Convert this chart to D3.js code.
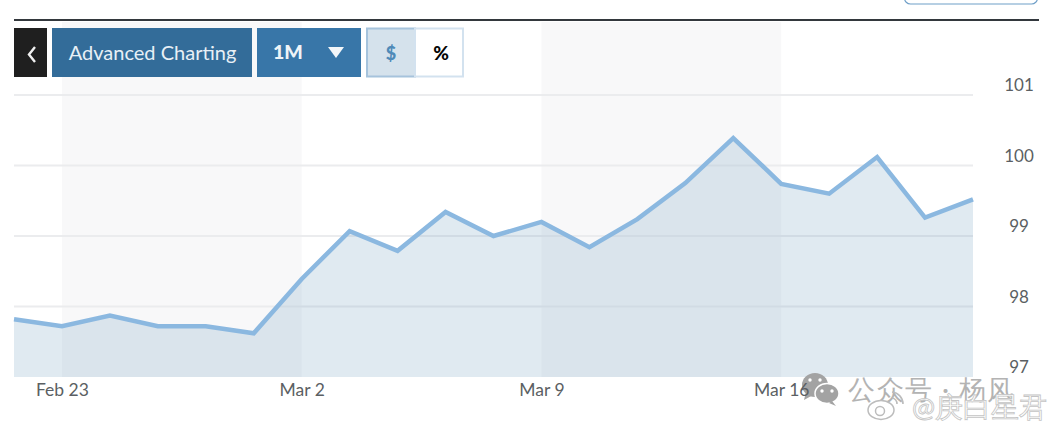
<!DOCTYPE html>
<html><head><meta charset="utf-8">
<script src="https://cdn.jsdelivr.net/npm/d3@7"></script>
<style>html,body{margin:0;padding:0;background:#fff}svg{display:block}text{font-family:Lato,sans-serif}</style>
</head><body><svg id="c" width="1056" height="432"></svg>
<script>
const days = ["Feb 20","Feb 23","Feb 24","Feb 25","Feb 26","Feb 27","Mar 2","Mar 3","Mar 4","Mar 5","Mar 6","Mar 9","Mar 10","Mar 11","Mar 12","Mar 13","Mar 16","Mar 17","Mar 18","Mar 19","Mar 20"];
const prices = [97.82,97.72,97.87,97.72,97.72,97.62,98.39,99.07,98.79,99.34,99.00,99.20,98.84,99.24,99.75,100.39,99.74,99.60,100.12,99.26,99.52];
const xTickLabels = ["Feb 23","Mar 2","Mar 9","Mar 16"];
const yTicks = [97,98,99,100,101];
const shadedWeeks = [["Feb 23","Mar 2"],["Mar 9","Mar 16"]];

const svg = d3.select("#c");
const x = d3.scalePoint().domain(days).range([14,973]);
const y = d3.scaleLinear().domain([97,101]).range([377,95]);

// top rule and clipped outline button
svg.append("rect").attr("x",14).attr("y",19).attr("width",1025).attr("height",2).attr("fill","#33383d");
svg.append("rect").attr("x",904.5).attr("y",-16).attr("width",133).attr("height",20).attr("rx",6)
  .attr("fill","#fff").attr("stroke","#6f9fc8").attr("stroke-width",1.2);

// shaded weeks
svg.selectAll(".band").data(shadedWeeks).join("rect")
  .attr("x",d=>x(d[0])).attr("y",22).attr("width",d=>x(d[1])-x(d[0])).attr("height",355)
  .attr("fill","#f8f8f9");

// grid
svg.append("g").selectAll("line").data(yTicks.slice(1)).join("line")
  .attr("x1",14).attr("x2",973).attr("y1",d=>y(d)).attr("y2",d=>y(d))
  .attr("stroke","#ebecee").attr("stroke-width",2);

// area and line
const pts = days.map((d,i)=>[d,prices[i]]);
svg.append("path").datum(pts)
  .attr("d",d3.area().x(d=>x(d[0])).y0(y(97)).y1(d=>y(d[1])))
  .attr("fill","#7ea8c6").attr("fill-opacity",0.24);
svg.append("path").datum(pts)
  .attr("d",d3.line().x(d=>x(d[0])).y(d=>y(d[1])))
  .attr("fill","none").attr("stroke","#8bb8e0").attr("stroke-width",4.5).attr("stroke-linejoin","miter");

// axes
const yAxis = d3.axisRight(y).tickValues(yTicks).tickSize(0).tickPadding(0).tickFormat(d3.format("d"));
const gy = svg.append("g").attr("transform","translate(1019,-9.5)").call(yAxis);
gy.select(".domain").remove();
gy.selectAll("text").attr("text-anchor","middle").attr("font-size",17).attr("font-family","Lato,sans-serif").attr("fill","#5b5f63").attr("dy","0.32em");

// toolbar
const btn=(bx,by,w,h,fill,stroke)=>svg.append("rect").attr("x",bx).attr("y",by).attr("width",w).attr("height",h).attr("fill",fill).attr("stroke",stroke||"none");
const lab=(tx,ty,t,size,fill,weight)=>svg.append("text").attr("x",tx).attr("y",ty).attr("text-anchor","middle").attr("font-size",size).attr("fill",fill).attr("font-weight",weight||400).text(t);
btn(14,28,33,49,"#1f1f1f");
svg.append("path").attr("d",d3.line()([[35,47],[29,54.5],[35,62]])).attr("fill","none").attr("stroke","#f0f0f0").attr("stroke-width",2.4);
btn(52,28,200,49,"#336c99");
lab(152.5,60,"Advanced Charting",20,"#e8f0f6");
btn(257,28,104,49,"#3876a8");
lab(288,59,"1M",19.5,"#eef4f8",900);
svg.append("path").attr("d",d3.line()([[328,47],[344,47],[336,58]])+"Z").attr("fill","#f2f6f9");
btn(367,28.5,48,48,"#d5e2ec","#a6c3dc").attr("stroke-width",2);
btn(415,28.5,48,48,"#fff","#d3e2ef").attr("stroke-width",2);
lab(391,60,"$",18,"#4f8ab8",900);
lab(441,60,"%",19,"#050505",900);

// watermark
const wm=svg.append("g");
wm.append("ellipse").attr("cx",815).attr("cy",385).attr("rx",13).attr("ry",12).attr("fill","#a3a3a3");
wm.append("path").attr("d",d3.line()([[806,392],[804,400],[813,395]])).attr("fill","#a3a3a3");
wm.append("ellipse").attr("cx",827).attr("cy",393.5).attr("rx",12).attr("ry",10).attr("fill","#a3a3a3").attr("stroke","#fff").attr("stroke-width",1.5);
wm.append("path").attr("d",d3.line()([[832,401],[836,406],[829,403]])).attr("fill","#a3a3a3");
[[810,380],[820,380],[822,391],[832,391]].forEach(p=>wm.append("circle").attr("cx",p[0]).attr("cy",p[1]).attr("r",1.7).attr("fill","#fff"));
wm.append("text").attr("x",848).attr("y",399).attr("font-size",27).attr("font-family","'Noto Sans CJK SC'").attr("fill","#b3b3b3").attr("letter-spacing",1.5).text("公众号 · 杨风");
wm.append("ellipse").attr("cx",881).attr("cy",410).attr("rx",13).attr("ry",9.5).attr("fill","#fff").attr("stroke","#bcbcbc").attr("stroke-width",1.5);
wm.append("circle").attr("cx",880).attr("cy",411).attr("r",4.5).attr("fill","none").attr("stroke","#bcbcbc").attr("stroke-width",1.5);
wm.append("path").attr("d","M892 392 A12 12 0 0 1 903 404 M892 398 A6 6 0 0 1 897 404").attr("fill","none").attr("stroke","#bcbcbc").attr("stroke-width",1.6);
wm.append("text").attr("x",912).attr("y",417).attr("font-size",27.5).attr("font-family","'Noto Sans CJK SC'").attr("fill","#fff").attr("stroke","#c4c4c4").attr("stroke-width",0.8).text("@庚白星君");

// x axis sits above the watermark
const xAxis = d3.axisBottom(x).tickValues(xTickLabels).tickSize(0).tickPadding(0);
const gx = svg.append("g").attr("transform","translate(0,383.5)").call(xAxis);
gx.select(".domain").remove();
gx.selectAll("text").attr("font-size",17.5).attr("font-family","Lato,sans-serif").attr("fill","#5b5f63").attr("dy","0.71em");
</script></body></html>
